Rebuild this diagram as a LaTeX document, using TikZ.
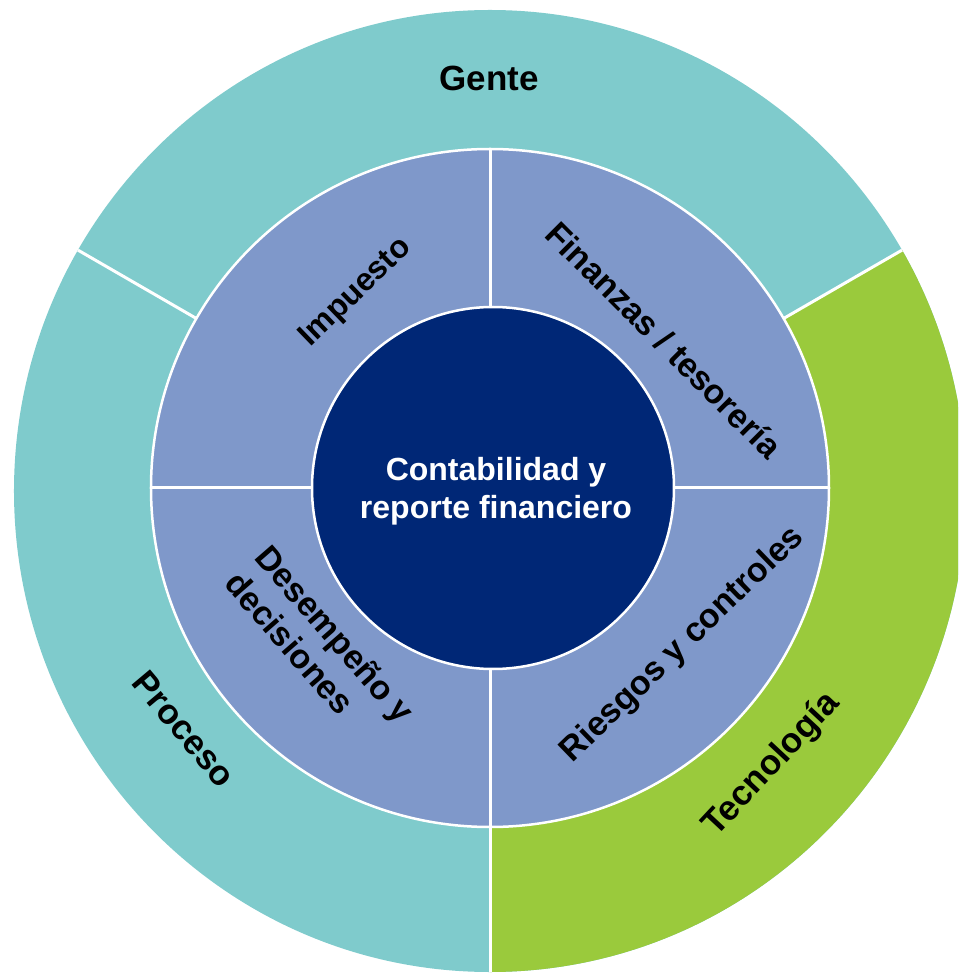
\documentclass[tikz,border=0pt]{standalone}
\usepackage{fontspec}
\setmainfont{Liberation Sans}
\usetikzlibrary{positioning}

\definecolor{ringteal}{HTML}{7FCBCC}
\definecolor{ringgreen}{HTML}{9ACA3C}
\definecolor{areablue}{HTML}{7F98CA}
\definecolor{corenavy}{HTML}{002776}

\begin{document}
\begin{tikzpicture}[
		x=1pt, y=1pt,
		outer label/.style={font=\fontsize{35}{42}\selectfont\bfseries},
		area label/.style={font=\fontsize{34}{40}\selectfont\bfseries},
		core label/.style={font=\fontsize{32}{38}\selectfont\bfseries, text=white, align=center},
		gap/.style={white, line width=3pt}
	]
	\useasboundingbox (-490,-486) rectangle (468,488);
	\clip (-490,-486) rectangle (468,488);

	% outer ring: Gente, Proceso, Tecnologia
	\fill[ringteal] (0,-3) ellipse [x radius=476, y radius=481];
	\begin{scope}
		\clip (0,-3) ellipse [x radius=476, y radius=481];
		\fill[ringgreen] (0,0) -- (-90:600) arc[start angle=-90, end angle=30, radius=600] -- cycle;
		\draw[gap] (0,0) -- (30:600);
		\draw[gap] (0,0) -- (150:600);
		\draw[gap] (0,0) -- (270:600);
	\end{scope}

	% middle ring with four areas
	\node[circle, fill=areablue, draw=white, line width=2.5pt, inner sep=0pt, minimum size=678] (areas) at (0,0) {};
	\draw[gap] (areas.north) -- (areas.south);
	\draw[gap] (areas.west) -- (areas.east);

	% core
	\node[circle, fill=corenavy, draw=white, line width=2.5pt, inner sep=0pt, minimum size=362] (core) at (3,0) {};
	\node[core label] (coretext) at (6,-3) {Contabilidad y\\reporte financiero};

	\node[outer label] (gente) at (-1,410) {Gente};
	\node[outer label, rotate=-50] (proceso) at (-306,-241) {Proceso};
	\node[outer label, rotate=47] (tecno) at (282,-277) {Tecnología};

	\node[area label, rotate=44, font=\fontsize{32}{38}\selectfont\bfseries] (impuesto) at (-134,195) {Impuesto};
	\node[area label, rotate=-45] (finanzas) at (174,148) {Finanzas / tesorería};
	\node[area label, rotate=44] (riesgos) at (193,-157) {Riesgos y controles};
	\node[area label, rotate=-49, align=left] (desempeno) at (-170,-159) {Desempeño y\\decisiones};
\end{tikzpicture}
\end{document}
